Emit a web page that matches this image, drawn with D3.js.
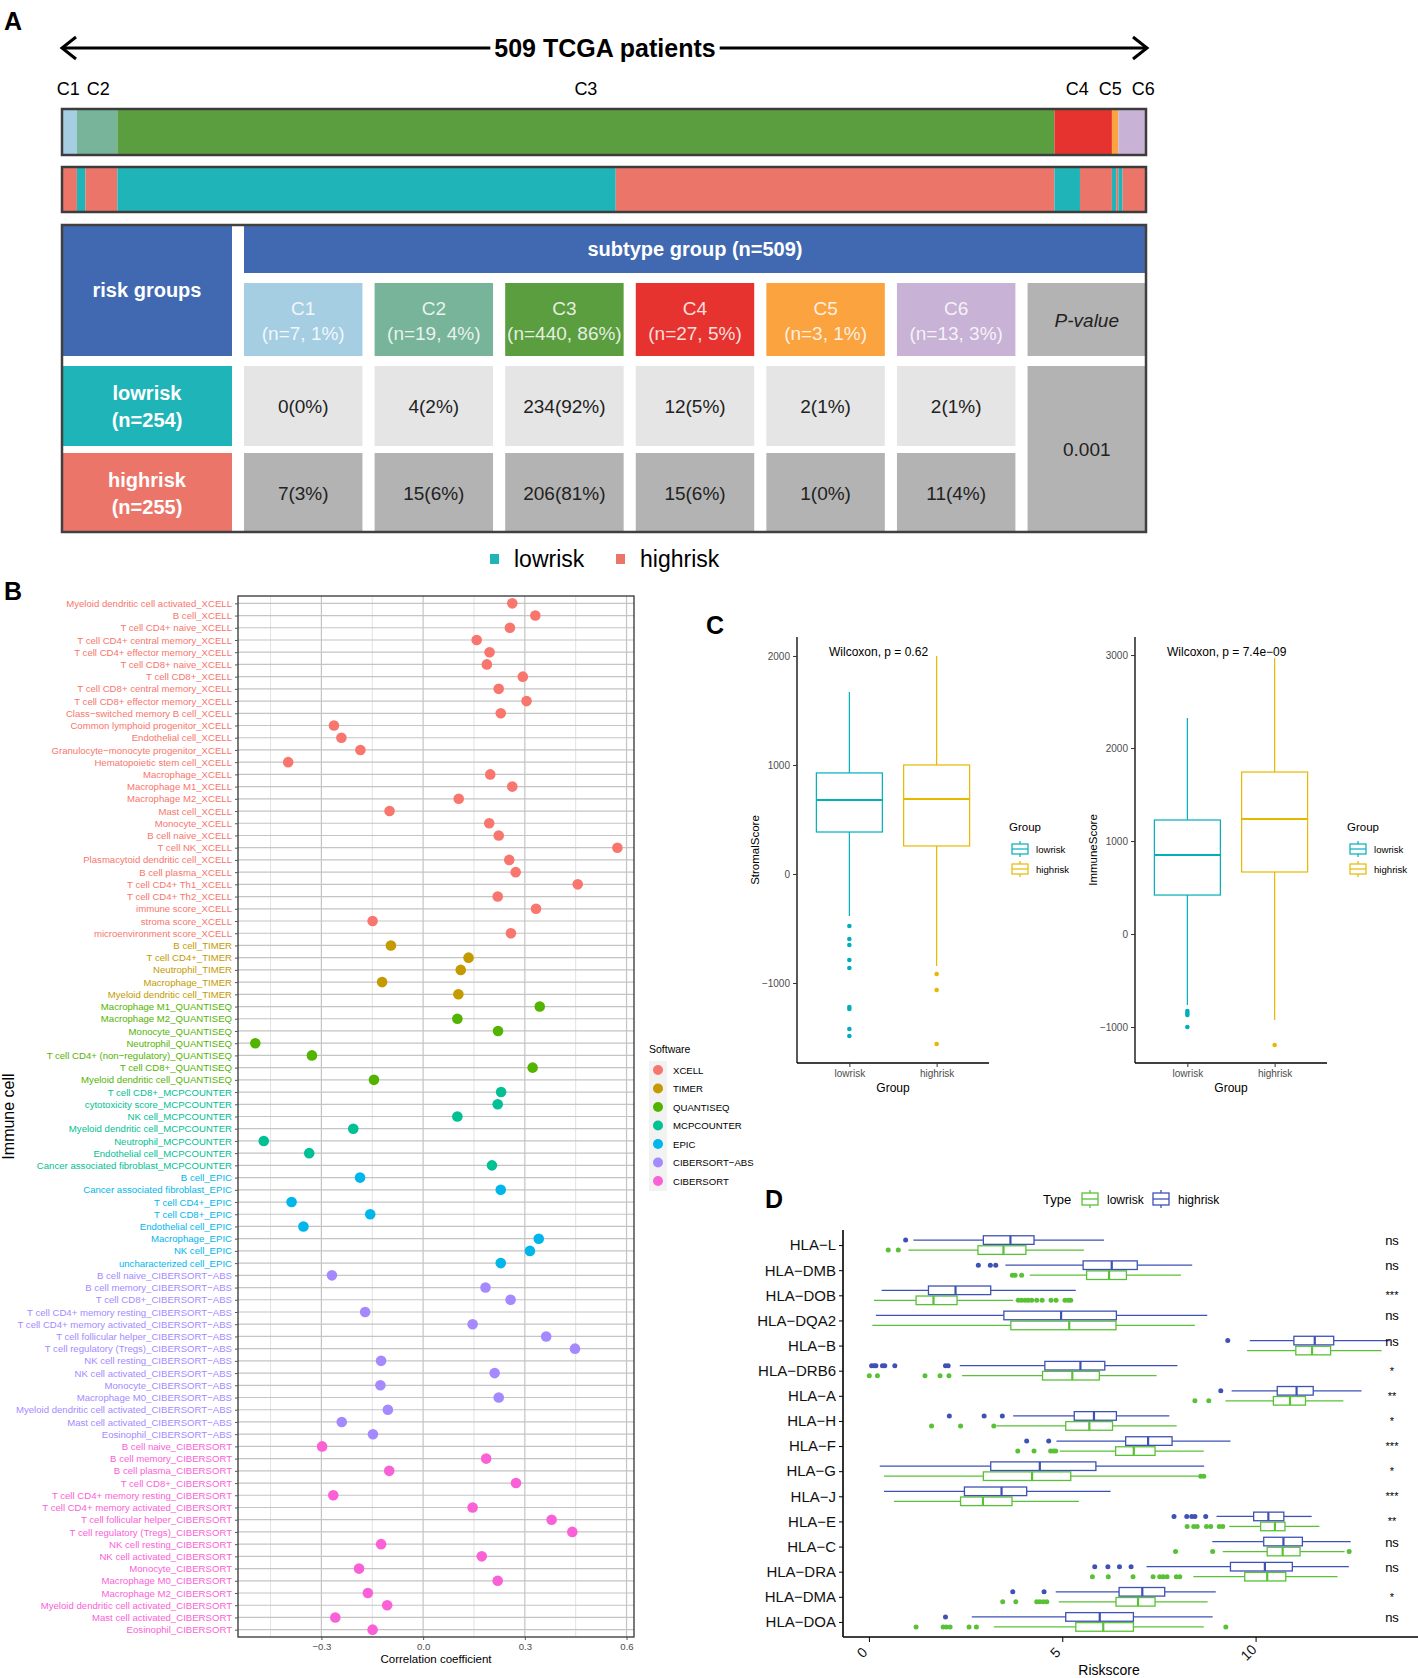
<!DOCTYPE html>
<html>
<head>
<meta charset="utf-8">
<script src="https://cdn.jsdelivr.net/npm/d3@7"></script>
<style>
body { margin: 0; background: #fff; }
svg { display: block; font-family: 'Liberation Sans', Arial, sans-serif; }
</style>
</head>
<body>
<svg id="fig" width="1418" height="1678"></svg>
<script>
// ---------- panel A data ----------
const totalPatients = 509
const subtypes = ['C1', 'C2', 'C3', 'C4', 'C5', 'C6']
const subtypeCounts = [7, 19, 440, 27, 3, 13]
const subtypeColors = ['#A6CEE3', '#78B49A', '#5B9E40', '#E6332F', '#FBA33F', '#C8B2D6']
const riskGroups = ['lowrisk', 'highrisk']
const riskTotals = [254, 255]
const riskColors = ['#1FB5B8', '#EC756A']
const lowriskCounts = [0, 4, 234, 12, 2, 2]
const highriskCounts = [7, 15, 206, 15, 1, 11]
const pValue = '0.001'

// ---------- panel B data ----------
const immuneCells = [
    'Myeloid dendritic cell activated_XCELL', 'B cell_XCELL', 'T cell CD4+ naive_XCELL',
    'T cell CD4+ central memory_XCELL', 'T cell CD4+ effector memory_XCELL', 'T cell CD8+ naive_XCELL',
    'T cell CD8+_XCELL', 'T cell CD8+ central memory_XCELL', 'T cell CD8+ effector memory_XCELL',
    'Class-switched memory B cell_XCELL', 'Common lymphoid progenitor_XCELL', 'Endothelial cell_XCELL',
    'Granulocyte-monocyte progenitor_XCELL', 'Hematopoietic stem cell_XCELL', 'Macrophage_XCELL',
    'Macrophage M1_XCELL', 'Macrophage M2_XCELL', 'Mast cell_XCELL', 'Monocyte_XCELL',
    'B cell naive_XCELL', 'T cell NK_XCELL', 'Plasmacytoid dendritic cell_XCELL', 'B cell plasma_XCELL',
    'T cell CD4+ Th1_XCELL', 'T cell CD4+ Th2_XCELL', 'immune score_XCELL', 'stroma score_XCELL',
    'microenvironment score_XCELL',
    'B cell_TIMER', 'T cell CD4+_TIMER', 'Neutrophil_TIMER', 'Macrophage_TIMER', 'Myeloid dendritic cell_TIMER',
    'Macrophage M1_QUANTISEQ', 'Macrophage M2_QUANTISEQ', 'Monocyte_QUANTISEQ', 'Neutrophil_QUANTISEQ',
    'T cell CD4+ (non-regulatory)_QUANTISEQ', 'T cell CD8+_QUANTISEQ', 'Myeloid dendritic cell_QUANTISEQ',
    'T cell CD8+_MCPCOUNTER', 'cytotoxicity score_MCPCOUNTER', 'NK cell_MCPCOUNTER',
    'Myeloid dendritic cell_MCPCOUNTER', 'Neutrophil_MCPCOUNTER', 'Endothelial cell_MCPCOUNTER',
    'Cancer associated fibroblast_MCPCOUNTER',
    'B cell_EPIC', 'Cancer associated fibroblast_EPIC', 'T cell CD4+_EPIC', 'T cell CD8+_EPIC',
    'Endothelial cell_EPIC', 'Macrophage_EPIC', 'NK cell_EPIC', 'uncharacterized cell_EPIC',
    'B cell naive_CIBERSORT-ABS', 'B cell memory_CIBERSORT-ABS', 'T cell CD8+_CIBERSORT-ABS',
    'T cell CD4+ memory resting_CIBERSORT-ABS', 'T cell CD4+ memory activated_CIBERSORT-ABS',
    'T cell follicular helper_CIBERSORT-ABS', 'T cell regulatory (Tregs)_CIBERSORT-ABS',
    'NK cell resting_CIBERSORT-ABS', 'NK cell activated_CIBERSORT-ABS', 'Monocyte_CIBERSORT-ABS',
    'Macrophage M0_CIBERSORT-ABS', 'Myeloid dendritic cell activated_CIBERSORT-ABS',
    'Mast cell activated_CIBERSORT-ABS', 'Eosinophil_CIBERSORT-ABS',
    'B cell naive_CIBERSORT', 'B cell memory_CIBERSORT', 'B cell plasma_CIBERSORT', 'T cell CD8+_CIBERSORT',
    'T cell CD4+ memory resting_CIBERSORT', 'T cell CD4+ memory activated_CIBERSORT',
    'T cell follicular helper_CIBERSORT', 'T cell regulatory (Tregs)_CIBERSORT', 'NK cell resting_CIBERSORT',
    'NK cell activated_CIBERSORT', 'Monocyte_CIBERSORT', 'Macrophage M0_CIBERSORT', 'Macrophage M2_CIBERSORT',
    'Myeloid dendritic cell activated_CIBERSORT', 'Mast cell activated_CIBERSORT', 'Eosinophil_CIBERSORT'
]
const immuneCorr = [
    0.263, 0.331, 0.256, 0.158, 0.196, 0.188, 0.294, 0.223, 0.305, 0.229, -0.263, -0.241, -0.185, -0.398,
    0.198, 0.263, 0.105, -0.099, 0.195, 0.223, 0.573, 0.254, 0.273, 0.456, 0.220, 0.333, -0.149, 0.259,
    -0.095, 0.134, 0.111, -0.121, 0.104,
    0.344, 0.101, 0.221, -0.495, -0.328, 0.323, -0.145,
    0.230, 0.220, 0.101, -0.206, -0.470, -0.336, 0.203,
    -0.186, 0.229, -0.388, -0.156, -0.353, 0.341, 0.315, 0.229,
    -0.269, 0.184, 0.258, -0.171, 0.146, 0.363, 0.448, -0.124, 0.211, -0.126, 0.223, -0.104, -0.240, -0.148,
    -0.298, 0.186, -0.100, 0.274, -0.265, 0.146, 0.379, 0.440, -0.124, 0.173, -0.189, 0.220, -0.163,
    -0.106, -0.259, -0.149
]
const softwares = ['XCELL', 'TIMER', 'QUANTISEQ', 'MCPCOUNTER', 'EPIC', 'CIBERSORT-ABS', 'CIBERSORT']
const softwareColors = ['#F8766D', '#C49A00', '#53B400', '#00C094', '#00B6EB', '#A58AFF', '#FB61D7']
const corrTicks = [-0.3, 0, 0.3, 0.6]
const corrMinorTicks = [-0.45, -0.15, 0.15, 0.45]

// ---------- panel C data ----------
const groups = ['lowrisk', 'highrisk']
const groupColors = ['#00AFBB', '#E7B800']
// [lower whisker, q1, median, q3, upper whisker]
const stromalBoxes = [[-385, 385, 679, 927, 1670], [-844, 257, 688, 1000, 2000]]
const stromalOutliers = [[-477, -596, -651, -789, -862, -1220, -1238, -1422, -1486], [-917, -1064, -1560]]
const stromalTicks = [-1000, 0, 1000, 2000]
const stromalP = 'Wilcoxon, p = 0.62'
const immuneBoxes = [[-763, 419, 849, 1226, 2323], [-925, 667, 1237, 1742, 2968]]
const immuneOutliers = [[-828, -850, -870, -1000], [-1194]]
const immuneTicks = [-1000, 0, 1000, 2000, 3000]
const immuneP = 'Wilcoxon, p = 7.4e\u221209'

// ---------- panel D data ----------
const hlaGenes = ['HLA-L', 'HLA-DMB', 'HLA-DOB', 'HLA-DQA2', 'HLA-B', 'HLA-DRB6', 'HLA-A', 'HLA-H',
    'HLA-F', 'HLA-G', 'HLA-J', 'HLA-E', 'HLA-C', 'HLA-DRA', 'HLA-DMA', 'HLA-DOA']
const hlaSig = ['ns', 'ns', '***', 'ns', 'ns', '*', '**', '*', '***', '*', '***', '**', 'ns', 'ns', '*', 'ns']
const typeNames = ['lowrisk', 'highrisk']
const typeColors = ['#59C135', '#3F51B5']
const hlaHighBoxes = [
    [1.15, 2.96, 3.66, 4.27, 6.08], [3.53, 5.54, 6.28, 6.94, 8.36], [0.33, 1.54, 2.24, 3.15, 5.35],
    [0.18, 3.49, 4.97, 6.40, 8.75], [9.85, 10.99, 11.53, 12.02, 13.47], [2.35, 4.55, 5.47, 6.10, 7.98],
    [9.38, 10.56, 11.06, 11.49, 12.74], [3.73, 5.31, 5.82, 6.40, 7.77], [4.85, 6.64, 7.22, 7.84, 9.35],
    [0.28, 3.15, 4.42, 5.87, 8.67], [0.39, 2.47, 3.43, 4.08, 6.25], [8.99, 9.95, 10.33, 10.73, 11.45],
    [8.88, 10.21, 10.72, 11.21, 12.46], [7.18, 9.35, 10.24, 10.95, 12.41], [4.83, 6.47, 7.07, 7.65, 8.97],
    [2.66, 5.09, 5.97, 6.84, 8.89]
]
const hlaLowBoxes = [
    [1.02, 2.82, 3.48, 4.06, 5.56], [4.16, 5.63, 6.21, 6.66, 8.07], [0.13, 1.22, 1.67, 2.28, 3.73],
    [0.09, 3.67, 5.18, 6.39, 8.43], [9.78, 11.04, 11.46, 11.94, 13.26], [2.41, 4.49, 5.26, 5.96, 7.44],
    [9.22, 10.46, 10.89, 11.29, 12.27], [3.30, 5.09, 5.70, 6.30, 7.96], [4.94, 6.38, 6.85, 7.40, 8.66],
    [0.39, 2.96, 4.22, 5.22, 8.53], [0.65, 2.37, 2.95, 3.70, 5.43], [9.32, 10.13, 10.50, 10.76, 11.65],
    [9.15, 10.30, 10.70, 11.15, 12.30], [8.39, 9.72, 10.30, 10.78, 12.12], [4.91, 6.39, 6.96, 7.40, 8.76],
    [3.23, 5.35, 6.06, 6.84, 8.66]
]
const hlaHighOutliers = [
    [0.95], [2.83, 3.14, 3.28], [], [], [9.28], [0.07, 0.13, 0.18, 0.35, 0.41, 0.67, 1.98, 2.05], [9.10],
    [2.08, 2.98, 3.45], [4.08, 4.65], [], [], [7.89, 8.22, 8.35, 8.43, 8.71], [], [5.84, 6.18, 6.48, 6.78],
    [3.72, 4.53], [1.98]
]
const hlaLowOutliers = [
    [0.50, 0.76], [3.71, 3.78, 3.95], [3.86, 3.95, 4.04, 4.12, 4.21, 4.34, 4.48, 4.71, 4.84, 5.07, 5.16, 5.22],
    [], [], [0.01, 0.22, 1.45, 1.84, 2.07], [8.43, 8.79], [1.62, 2.37, 3.23], [3.85, 4.27, 4.70, 4.77, 4.83],
    [8.58, 8.66], [], [8.23, 8.40, 8.49, 8.73, 8.84, 9.06, 9.15], [7.93, 8.89, 12.42],
    [5.78, 6.19, 6.83, 7.35, 7.52, 7.61, 7.71, 7.95, 8.04], [3.46, 3.80, 4.34, 4.42, 4.51, 4.60],
    [1.22, 1.92, 2.00, 2.10, 2.59, 2.78, 9.23]
]

//ggplot style minus signs in labels
const minus = s => s.replace(/-/g, '\u2212')
const fmtInt = d3.format('d')

const svg = d3.select('#fig')

//panel letters
const letters = [['A', 4, 30], ['B', 4, 600], ['C', 706, 634], ['D', 765, 1208]]
svg.selectAll('text.letter')
    .data(letters)
    .enter().append('text')
    .attr('class', 'letter')
    .attr('x', d => d[1])
    .attr('y', d => d[2])
    .attr('font-size', '25px')
    .attr('font-weight', 'bold')
    .text(d => d[0])

// =================== PANEL A ===================
const gA = svg.append('g')
const barX = d3.scaleLinear().domain([0, totalPatients]).range([62, 1146])
const cum = d3.cumsum(subtypeCounts)
const starts = subtypeCounts.map((c, i) => cum[i] - c)

//double arrow with title
const arrowY = 48
gA.append('line')
    .attr('x1', 62).attr('x2', 1147)
    .attr('y1', arrowY).attr('y2', arrowY)
    .attr('stroke', '#000').attr('stroke-width', 3)
gA.selectAll('path.head')
    .data([[62, 1], [1147, -1]])
    .enter().append('path')
    .attr('d', d => `M${d[0] + d[1] * 14},${arrowY - 11} L${d[0]},${arrowY} L${d[0] + d[1] * 14},${arrowY + 11}`)
    .attr('fill', 'none').attr('stroke', '#000').attr('stroke-width', 3)
const titleA = gA.append('text')
    .attr('x', 605).attr('y', arrowY + 9)
    .attr('text-anchor', 'middle')
    .attr('font-size', '25px').attr('font-weight', 'bold')
    .text(`${totalPatients} TCGA patients`)
const tb = titleA.node().getBBox()
gA.insert('rect', 'text')
    .attr('x', tb.x - 4).attr('y', arrowY - 6).attr('width', tb.width + 8).attr('height', 12)
    .attr('fill', '#fff')

//subtype labels, spread apart where crowded
const labelGap = 30
const labelCenters = subtypes.map((s, i) => barX(starts[i] + subtypeCounts[i] / 2))
let clusters = labelCenters.map((c, i) => ({ idx: [i], c }))
let merged = true
while (merged) {
    merged = false
    for (let k = 0; k < clusters.length - 1; k++) {
        const a = clusters[k], b = clusters[k + 1]
        const aEnd = a.c + (a.idx.length - 1) / 2 * labelGap
        const bStart = b.c - (b.idx.length - 1) / 2 * labelGap
        if (bStart - aEnd < labelGap) {
            const idx = a.idx.concat(b.idx)
            clusters.splice(k, 2, { idx, c: d3.mean(idx, i => labelCenters[i]) })
            merged = true
            break
        }
    }
}
const labelPos = []
clusters.forEach(cl => cl.idx.forEach((i, j) => { labelPos[i] = cl.c + (j - (cl.idx.length - 1) / 2) * (cl.idx.length > 2 ? 33 : labelGap) }))
gA.selectAll('text.sublab')
    .data(subtypes)
    .enter().append('text')
    .attr('class', 'sublab')
    .attr('x', (d, i) => labelPos[i])
    .attr('y', 95)
    .attr('text-anchor', 'middle')
    .attr('font-size', '18px')
    .text(d => d)

//subtype bar
gA.selectAll('rect.sub')
    .data(subtypes)
    .enter().append('rect')
    .attr('class', 'sub')
    .attr('x', (d, i) => barX(starts[i]))
    .attr('width', (d, i) => barX(subtypeCounts[i]) - barX(0))
    .attr('y', 109).attr('height', 46)
    .attr('fill', (d, i) => subtypeColors[i])

//risk bar: lowrisk then highrisk inside every subtype
const riskSegs = []
subtypes.forEach((s, i) => {
    riskSegs.push({ start: starts[i], n: lowriskCounts[i], risk: 0 })
    riskSegs.push({ start: starts[i] + lowriskCounts[i], n: highriskCounts[i], risk: 1 })
})
gA.selectAll('rect.risk')
    .data(riskSegs.filter(d => d.n > 0))
    .enter().append('rect')
    .attr('class', 'risk')
    .attr('x', d => barX(d.start))
    .attr('width', d => barX(d.n) - barX(0))
    .attr('y', 167).attr('height', 45)
    .attr('fill', d => riskColors[d.risk])
gA.selectAll('rect.barframe')
    .data([[109, 46], [167, 45]])
    .enter().append('rect')
    .attr('x', 62).attr('width', 1084)
    .attr('y', d => d[0]).attr('height', d => d[1])
    .attr('fill', 'none').attr('stroke', '#3c3c3c').attr('stroke-width', 2.5)

//table
const blue = '#4069B2'
const cols = subtypes.concat(['P-value'])
const colX = d3.scaleBand().domain(cols).range([244, 1146]).paddingInner(0.093)
const rowY = [[366, 80], [453, 79]]
gA.append('rect').attr('x', 62).attr('y', 225).attr('width', 170).attr('height', 131).attr('fill', blue)
gA.append('rect').attr('x', 244).attr('y', 225).attr('width', 902).attr('height', 48).attr('fill', blue)
gA.append('text')
    .attr('x', 147).attr('y', 297).attr('text-anchor', 'middle')
    .attr('fill', '#fff').attr('font-size', '20px').attr('font-weight', 'bold')
    .text('risk groups')
gA.append('text')
    .attr('x', 695).attr('y', 256).attr('text-anchor', 'middle')
    .attr('fill', '#fff').attr('font-size', '20px').attr('font-weight', 'bold')
    .text(`subtype group (n=${totalPatients})`)

//column headers
gA.selectAll('rect.colhead')
    .data(cols)
    .enter().append('rect')
    .attr('x', d => colX(d)).attr('width', colX.bandwidth())
    .attr('y', 283).attr('height', 73)
    .attr('fill', (d, i) => i < subtypes.length ? subtypeColors[i] : '#B3B3B3')
subtypes.forEach((s, i) => {
    const t = gA.append('text')
        .attr('x', colX(s) + colX.bandwidth() / 2).attr('text-anchor', 'middle')
        .attr('fill', '#fff').attr('fill-opacity', 0.85).attr('font-size', '19px')
    t.append('tspan').attr('x', colX(s) + colX.bandwidth() / 2).attr('y', 315).text(s)
    t.append('tspan').attr('x', colX(s) + colX.bandwidth() / 2).attr('y', 340)
        .text(`(n=${subtypeCounts[i]}, ${Math.round(subtypeCounts[i] / totalPatients * 100)}%)`)
})
gA.append('text')
    .attr('x', colX('P-value') + colX.bandwidth() / 2).attr('y', 327)
    .attr('text-anchor', 'middle').attr('font-size', '19px').attr('font-style', 'italic').attr('fill', '#222')
    .text('P-value')

//row labels and cells
const riskCounts = [lowriskCounts, highriskCounts]
riskGroups.forEach((r, ri) => {
    const [y0, h] = rowY[ri]
    gA.append('rect').attr('x', 62).attr('y', y0).attr('width', 170).attr('height', h).attr('fill', riskColors[ri])
    const t = gA.append('text').attr('text-anchor', 'middle')
        .attr('fill', '#fff').attr('font-size', '20px').attr('font-weight', 'bold')
    t.append('tspan').attr('x', 147).attr('y', y0 + 34).text(r)
    t.append('tspan').attr('x', 147).attr('y', y0 + 61).text(`(n=${riskTotals[ri]})`)
    gA.selectAll(null)
        .data(subtypes)
        .enter().append('rect')
        .attr('x', d => colX(d)).attr('width', colX.bandwidth())
        .attr('y', y0).attr('height', h)
        .attr('fill', ri === 0 ? '#E5E5E5' : '#B3B3B3')
    gA.selectAll(null)
        .data(subtypes)
        .enter().append('text')
        .attr('x', d => colX(d) + colX.bandwidth() / 2)
        .attr('y', y0 + h / 2 + 7)
        .attr('text-anchor', 'middle').attr('font-size', '19px').attr('fill', '#222')
        .text((d, i) => `${riskCounts[ri][i]}(${Math.round(riskCounts[ri][i] / riskTotals[ri] * 100)}%)`)
})
gA.append('rect')
    .attr('x', colX('P-value')).attr('width', colX.bandwidth())
    .attr('y', 366).attr('height', 166).attr('fill', '#B3B3B3')
gA.append('text')
    .attr('x', colX('P-value') + colX.bandwidth() / 2).attr('y', 456)
    .attr('text-anchor', 'middle').attr('font-size', '19px').attr('fill', '#222')
    .text(pValue)
gA.append('rect')
    .attr('x', 62).attr('y', 225).attr('width', 1084).attr('height', 307)
    .attr('fill', 'none').attr('stroke', '#404040').attr('stroke-width', 2.5)

//risk legend
const legA = gA.selectAll('g.lega')
    .data(riskGroups)
    .enter().append('g')
    .attr('transform', (d, i) => `translate(${[490, 616][i]}, 559)`)
legA.append('rect').attr('x', 0).attr('y', -5).attr('width', 9).attr('height', 10)
    .attr('fill', (d, i) => riskColors[i])
legA.append('text').attr('x', 24).attr('y', 8).attr('font-size', '23px').text(d => d)

// =================== PANEL B ===================
const gB = svg.append('g')
const bLeft = 238, bRight = 634, bTop = 596, bBottom = 1637
const xB = d3.scaleLinear().domain([-0.546, 0.622]).range([bLeft, bRight])
const yB = d3.scalePoint().domain(immuneCells).range([bTop, bBottom]).padding(0.6)
const softOf = name => name.slice(name.lastIndexOf('_') + 1)
const softColor = name => softwareColors[softwares.indexOf(softOf(name))]

gB.selectAll('line.vminor')
    .data(corrMinorTicks)
    .enter().append('line')
    .attr('x1', d => xB(d)).attr('x2', d => xB(d))
    .attr('y1', bTop).attr('y2', bBottom)
    .attr('stroke', '#e3e3e3').attr('stroke-width', 1)
gB.selectAll('line.vmajor')
    .data(corrTicks)
    .enter().append('line')
    .attr('x1', d => xB(d)).attr('x2', d => xB(d))
    .attr('y1', bTop).attr('y2', bBottom)
    .attr('stroke', '#c4c4c4').attr('stroke-width', 1.2)
gB.selectAll('line.hgrid')
    .data(immuneCells)
    .enter().append('line')
    .attr('x1', bLeft).attr('x2', bRight)
    .attr('y1', d => yB(d)).attr('y2', d => yB(d))
    .attr('stroke', '#c4c4c4').attr('stroke-width', 1.2)
gB.append('rect')
    .attr('x', bLeft).attr('y', bTop).attr('width', bRight - bLeft).attr('height', bBottom - bTop)
    .attr('fill', 'none').attr('stroke', '#333').attr('stroke-width', 1.3)

const yAxisB = gB.append('g')
    .attr('transform', `translate(${bLeft}, 0)`)
    .call(d3.axisLeft(yB).tickSize(3).tickPadding(3).tickFormat(minus))
yAxisB.select('.domain').remove()
yAxisB.selectAll('line').attr('stroke', '#555')
yAxisB.selectAll('text')
    .attr('font-size', '9.6px')
    .attr('font-family', "'Liberation Sans', Arial, sans-serif")
    .attr('fill', d => softColor(d))

const xAxisB = gB.append('g')
    .attr('transform', `translate(0, ${bBottom})`)
    .call(d3.axisBottom(xB).tickValues(corrTicks).tickSize(3).tickFormat(d3.format('.1f')))
xAxisB.select('.domain').remove()
xAxisB.selectAll('line').attr('stroke', '#555')
xAxisB.selectAll('text')
    .attr('font-size', '9.6px').attr('fill', '#4d4d4d')
    .attr('font-family', "'Liberation Sans', Arial, sans-serif")

gB.selectAll('circle.dot')
    .data(immuneCells)
    .enter().append('circle')
    .attr('class', 'dot')
    .attr('cx', (d, i) => xB(immuneCorr[i]))
    .attr('cy', d => yB(d))
    .attr('r', 5.3)
    .attr('fill', d => softColor(d))

gB.append('text')
    .attr('x', (bLeft + bRight) / 2).attr('y', 1663)
    .attr('text-anchor', 'middle').attr('font-size', '11.5px')
    .text('Correlation coefficient')
gB.append('text')
    .attr('transform', `translate(14, ${(bTop + bBottom) / 2}) rotate(-90)`)
    .attr('text-anchor', 'middle').attr('font-size', '16px')
    .text('Immune cell')

//software legend
gB.append('text').attr('x', 649).attr('y', 1053).attr('font-size', '10.5px').text('Software')
gB.append('rect').attr('x', 649).attr('y', 1061).attr('width', 18).attr('height', 130).attr('fill', '#f2f2f2')
const legB = gB.selectAll('g.legb')
    .data(softwares)
    .enter().append('g')
    .attr('transform', (d, i) => `translate(658, ${1070 + i * 18.5})`)
legB.append('circle').attr('r', 5).attr('fill', (d, i) => softwareColors[i])
legB.append('text').attr('x', 15).attr('y', 3.5).attr('font-size', '9.6px').text(d => minus(d))

// =================== PANEL C ===================
const drawScorePanel = (left, yDomain, ticks, boxes, outliers, yLabel, pText) => {
    const g = svg.append('g')
    const right = left + 192, top = 637, bottom = 1063
    const x = d3.scalePoint().domain(groups).range([left, right]).padding(0.6)
    const y = d3.scaleLinear().domain(yDomain).range([bottom, top])
    const half = 33

    const xAxis = g.append('g').attr('transform', `translate(0, ${bottom})`)
        .call(d3.axisBottom(x).tickSize(4).tickPadding(3))
    const yAxis = g.append('g').attr('transform', `translate(${left}, 0)`)
        .call(d3.axisLeft(y).tickValues(ticks).tickSize(4).tickPadding(3).tickFormat(fmtInt))
    ;[xAxis, yAxis].forEach(a => {
        a.select('.domain').attr('stroke', '#000').attr('stroke-width', 1.3)
        a.selectAll('.tick line').attr('stroke', '#333')
        a.selectAll('text').attr('font-size', '10px').attr('fill', '#4d4d4d')
            .attr('font-family', "'Liberation Sans', Arial, sans-serif")
    })
    yAxis.select('.domain').attr('d', `M0,${top}V${bottom}`)
    xAxis.select('.domain').attr('d', `M${left},0H${right}`)

    groups.forEach((grp, i) => {
        const b = boxes[i], cx = x(grp), col = groupColors[i]
        g.append('line').attr('x1', cx).attr('x2', cx).attr('y1', y(b[0])).attr('y2', y(b[1]))
            .attr('stroke', col).attr('stroke-width', 1.2)
        g.append('line').attr('x1', cx).attr('x2', cx).attr('y1', y(b[3])).attr('y2', y(b[4]))
            .attr('stroke', col).attr('stroke-width', 1.2)
        g.append('rect').attr('x', cx - half).attr('width', half * 2)
            .attr('y', y(b[3])).attr('height', y(b[1]) - y(b[3]))
            .attr('fill', '#fff').attr('stroke', col).attr('stroke-width', 1.2)
        g.append('line').attr('x1', cx - half).attr('x2', cx + half).attr('y1', y(b[2])).attr('y2', y(b[2]))
            .attr('stroke', col).attr('stroke-width', 2)
        g.selectAll(null)
            .data(outliers[i])
            .enter().append('circle')
            .attr('cx', cx).attr('cy', d => y(d)).attr('r', 2.3).attr('fill', col)
    })

    g.append('text').attr('x', left + 32).attr('y', 656).attr('font-size', '12px').text(pText)
    g.append('text')
        .attr('transform', `translate(${left - 38}, ${(top + bottom) / 2}) rotate(-90)`)
        .attr('text-anchor', 'middle').attr('font-size', '11.5px').text(yLabel)
    g.append('text').attr('x', (left + right) / 2).attr('y', 1092)
        .attr('text-anchor', 'middle').attr('font-size', '12px').text('Group')

    //legend
    const lx = right + 20
    g.append('text').attr('x', lx).attr('y', 831).attr('font-size', '11.5px').text('Group')
    const leg = g.selectAll('g.legc')
        .data(groups)
        .enter().append('g')
        .attr('transform', (d, i) => `translate(${lx + 3}, ${849 + i * 20})`)
    leg.append('line').attr('x1', 8).attr('x2', 8).attr('y1', -8).attr('y2', 8)
        .attr('stroke', (d, i) => groupColors[i]).attr('stroke-width', 1.2)
    leg.append('rect').attr('x', 0).attr('y', -5).attr('width', 16).attr('height', 10)
        .attr('fill', '#fff').attr('stroke', (d, i) => groupColors[i]).attr('stroke-width', 1.2)
    leg.append('line').attr('x1', 0).attr('x2', 16).attr('y1', 0).attr('y2', 0)
        .attr('stroke', (d, i) => groupColors[i]).attr('stroke-width', 1.2)
    leg.append('text').attr('x', 24).attr('y', 3.5).attr('font-size', '9.6px').text(d => d)
}
drawScorePanel(797, [-1734, 2174], stromalTicks, stromalBoxes, stromalOutliers, 'StromalScore', stromalP)
drawScorePanel(1135, [-1387, 3194], immuneTicks, immuneBoxes, immuneOutliers, 'ImmuneScore', immuneP)

// =================== PANEL D ===================
const gD = svg.append('g')
const dLeft = 843, dRight = 1418, dTop = 1230, dBottom = 1637
const xD = d3.scaleLinear().domain([-0.67, 14.2]).range([dLeft, dRight])
const yD = d3.scalePoint().domain(hlaGenes).range([dTop, dBottom]).padding(0.6)
const boxHalf = 4.3
const offsets = [5, -5] // lowrisk below, highrisk above

const drawHBox = (b, out, cy, col) => {
    gD.append('line').attr('x1', xD(b[0])).attr('x2', xD(b[1])).attr('y1', cy).attr('y2', cy)
        .attr('stroke', col).attr('stroke-width', 1.3)
    gD.append('line').attr('x1', xD(b[3])).attr('x2', xD(b[4])).attr('y1', cy).attr('y2', cy)
        .attr('stroke', col).attr('stroke-width', 1.3)
    gD.append('rect').attr('x', xD(b[1])).attr('width', xD(b[3]) - xD(b[1]))
        .attr('y', cy - boxHalf).attr('height', boxHalf * 2)
        .attr('fill', '#fff').attr('stroke', col).attr('stroke-width', 1.3)
    gD.append('line').attr('x1', xD(b[2])).attr('x2', xD(b[2])).attr('y1', cy - boxHalf).attr('y2', cy + boxHalf)
        .attr('stroke', col).attr('stroke-width', 2.2)
    gD.selectAll(null)
        .data(out)
        .enter().append('circle')
        .attr('cx', d => xD(d)).attr('cy', cy).attr('r', 2.5).attr('fill', col)
}
hlaGenes.forEach((gene, i) => {
    drawHBox(hlaLowBoxes[i], hlaLowOutliers[i], yD(gene) + offsets[0], typeColors[0])
    drawHBox(hlaHighBoxes[i], hlaHighOutliers[i], yD(gene) + offsets[1], typeColors[1])
})

//significance marks
gD.selectAll('text.sig')
    .data(hlaSig)
    .enter().append('text')
    .attr('x', 1392)
    .attr('y', (d, i) => yD(hlaGenes[i]) + (d === 'ns' ? 0 : 4))
    .attr('text-anchor', 'middle')
    .attr('font-size', d => d === 'ns' ? '13px' : '11px')
    .text(d => d)

const yAxisD = gD.append('g').attr('transform', `translate(${dLeft}, 0)`)
    .call(d3.axisLeft(yD).tickSize(4).tickPadding(3).tickFormat(minus))
yAxisD.select('.domain').attr('d', `M0,${dTop}V${dBottom}`).attr('stroke', '#000').attr('stroke-width', 1.6)
yAxisD.selectAll('text').attr('font-size', '15px').attr('fill', '#111')
    .attr('font-family', "'Liberation Sans', Arial, sans-serif")
const xAxisD = gD.append('g').attr('transform', `translate(0, ${dBottom})`)
    .call(d3.axisBottom(xD).tickValues([0, 5, 10]).tickSize(5).tickFormat(fmtInt))
xAxisD.select('.domain').attr('d', `M${dLeft},0H${dRight}`).attr('stroke', '#000').attr('stroke-width', 1.6)
xAxisD.selectAll('text')
    .attr('font-size', '14px').attr('fill', '#111')
    .attr('font-family', "'Liberation Sans', Arial, sans-serif")
    .attr('text-anchor', 'middle')
    .attr('y', 0).attr('dy', 0)
    .attr('transform', 'translate(-4, 19) rotate(-45)')
gD.append('text').attr('x', 1109).attr('y', 1675).attr('text-anchor', 'middle')
    .attr('font-size', '14px').text('Riskscore')

//type legend
gD.append('text').attr('x', 1043).attr('y', 1204).attr('font-size', '13px').text('Type')
const legD = gD.selectAll('g.legd')
    .data(typeNames)
    .enter().append('g')
    .attr('transform', (d, i) => `translate(${[1082, 1153][i]}, 1199)`)
legD.append('line').attr('x1', 8).attr('x2', 8).attr('y1', -9).attr('y2', 9)
    .attr('stroke', (d, i) => typeColors[i]).attr('stroke-width', 1.3)
legD.append('rect').attr('x', 0).attr('y', -6).attr('width', 16).attr('height', 12)
    .attr('fill', '#fff').attr('stroke', (d, i) => typeColors[i]).attr('stroke-width', 1.3)
legD.append('line').attr('x1', 0).attr('x2', 16).attr('y1', 0).attr('y2', 0)
    .attr('stroke', (d, i) => typeColors[i]).attr('stroke-width', 1.3)
legD.append('text').attr('x', 25).attr('y', 4.5).attr('font-size', '12px').text(d => d)
</script>
</body>
</html>
